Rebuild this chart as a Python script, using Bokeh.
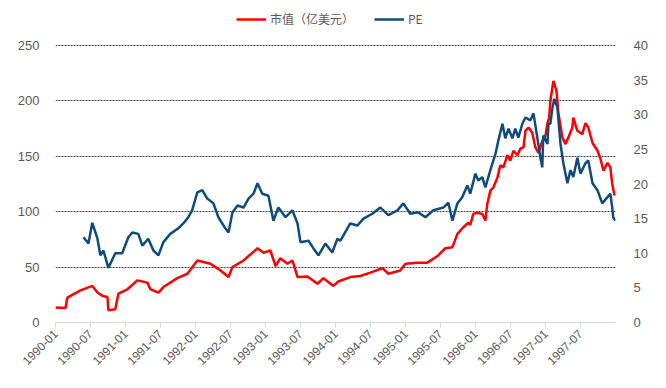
import pandas as pd
from bokeh.plotting import figure
from bokeh.models import (Range1d, LinearAxis, FixedTicker, DatetimeTickFormatter,
                          Legend, LegendItem, ColumnDataSource)
from bokeh.embed import file_html
from bokeh.resources import INLINE
import math

# ---- data ----
cap_dates = ["1990-01-01","1990-02-22","1990-03-04","1990-05-11","1990-07-12","1990-08-08",
             "1990-09-03","1990-09-29","1990-10-04","1990-11-09","1990-11-25","1991-01-11",
             "1991-03-04","1991-04-25","1991-05-11","1991-06-22","1991-07-18","1991-09-29",
             "1991-11-20","1992-01-11","1992-03-19","1992-05-11","1992-06-22","1992-07-12",
             "1992-09-08","1992-11-20","1992-12-21","1993-01-26","1993-02-22","1993-03-19",
             "1993-04-25","1993-05-21","1993-06-17","1993-08-08","1993-09-29","1993-10-30",
             "1993-12-21","1994-01-16","1994-03-19","1994-05-11","1994-07-02","1994-09-03",
             "1994-10-04","1994-12-05","1995-01-01","1995-03-04","1995-04-25","1995-06-17",
             "1995-07-28","1995-09-03","1995-09-29","1995-10-30","1995-11-25","1995-12-05",
             "1995-12-21","1996-01-11","1996-02-06","1996-02-22","1996-03-03","1996-03-19",
             "1996-04-04","1996-04-25","1996-05-10","1996-05-26","1996-06-16","1996-07-01",
             "1996-07-17","1996-08-07","1996-08-23","1996-09-08","1996-09-18","1996-10-04",
             "1996-10-24","1996-11-09","1996-11-25","1996-12-15","1997-01-01","1997-01-11",
             "1997-01-20","1997-01-26","1997-02-11","1997-02-27","1997-03-09","1997-03-30",
             "1997-04-15","1997-04-30","1997-05-21","1997-05-26","1997-06-16","1997-07-12",
             "1997-07-28","1997-08-12","1997-09-03","1997-09-29","1997-10-14","1997-10-30",
             "1997-11-20","1997-12-05","1997-12-15","1997-12-26","1997-12-31"]
cap_values = [13.5, 13, 22.5, 29, 33, 27,
              24, 23, 11, 12, 26, 30,
              38, 36, 30, 27, 32, 40,
              44, 56, 53, 47, 41, 50,
              56, 67, 63, 65, 51, 58,
              53, 56, 41, 41.5, 35, 40,
              33, 37, 41, 42, 45, 49,
              44, 47, 53, 54, 54, 60,
              67, 68, 80, 86, 90, 88,
              98, 99, 98, 92, 107, 119,
              122, 131, 142, 140, 151, 146,
              155, 151, 157, 158, 173, 176,
              171, 158, 153, 164, 169, 180,
              185, 200, 218, 209, 189, 167,
              161, 167, 176, 185, 173, 170,
              180, 176, 162, 155, 148, 137,
              144, 140, 125, 115, 116]

pe_dates = ["1990-05-27","1990-06-22","1990-07-12","1990-08-08","1990-08-23","1990-09-08",
            "1990-10-04","1990-11-09","1990-12-15","1991-01-16","1991-02-06","1991-03-09",
            "1991-03-30","1991-04-30","1991-05-27","1991-06-22","1991-07-18","1991-08-23",
            "1991-10-04","1991-10-30","1991-11-25","1991-12-15","1992-01-11","1992-02-06",
            "1992-03-03","1992-04-04","1992-04-30","1992-06-05","1992-06-22","1992-07-12",
            "1992-08-08","1992-09-08","1992-10-04","1992-10-30","1992-11-20","1992-12-15",
            "1993-01-16","1993-02-11","1993-03-09","1993-04-15","1993-05-21","1993-06-17",
            "1993-07-02","1993-08-13","1993-09-08","1993-10-04","1993-11-09","1993-12-15",
            "1994-01-11","1994-01-26","1994-03-19","1994-04-25","1994-05-27","1994-07-12",
            "1994-08-23","1994-10-04","1994-11-20","1994-12-21","1995-01-26","1995-03-09",
            "1995-04-15","1995-05-27","1995-07-18","1995-08-13","1995-09-03","1995-09-29",
            "1995-10-24","1995-11-20","1995-12-05","1996-01-01","1996-01-16","1996-02-06",
            "1996-02-22","1996-03-19","1996-04-15","1996-04-30","1996-05-21","1996-06-05",
            "1996-06-22","1996-07-12","1996-07-27","1996-08-12","1996-09-02","1996-09-18",
            "1996-10-14","1996-10-30","1996-11-19","1996-12-05","1996-12-15","1996-12-20",
            "1997-01-11","1997-01-16","1997-01-26","1997-02-06","1997-02-16","1997-03-04",
            "1997-03-20","1997-04-04","1997-04-25","1997-05-11","1997-05-26","1997-06-16",
            "1997-07-02","1997-07-28","1997-08-12","1997-09-03","1997-09-29","1997-10-24",
            "1997-11-20","1997-12-05","1997-12-15","1997-12-20","1997-12-31"]
pe_values = [12.3, 11.4, 14.4, 12.1, 9.7, 10.4,
             7.9, 10, 10, 12.3, 13, 12.8,
             11.1, 12.1, 10.4, 9.7, 11.6, 12.8,
             13.6, 14.3, 15.2, 16.2, 18.8, 19.1,
             17.9, 17.2, 15.2, 13.6, 13, 15.9,
             16.9, 16.6, 17.9, 18.6, 20.1, 18.6,
             18.3, 14.7, 16.6, 15.2, 16.2, 14.3,
             11.6, 11.8, 10.7, 9.7, 11.4, 10.1,
             12.1, 11.8, 14.3, 14, 15, 15.7,
             16.6, 15.5, 16.2, 17.2, 15.7, 15.9,
             15.2, 16.2, 16.6, 17.3, 14.7, 17.2,
             18.1, 19.8, 18.6, 21.5, 20.5, 21,
             19.5, 22, 24.4, 26.3, 28.7, 26.6,
             28, 26.6, 28, 26.7, 28.7, 29.6,
             29.2, 30.2, 26.7, 23.8, 22.4, 27,
             25.8, 28.7, 28.7, 31, 32.3, 31,
             25.8, 23, 20.1, 22, 21, 23.8,
             21.5, 23, 23.4, 20.1, 19.1, 17.2,
             18.1, 18.6, 16.6, 15.2, 14.7]

tick_labels = ["1990-01","1990-07","1991-01","1991-07","1992-01","1992-07","1993-01","1993-07",
               "1994-01","1994-07","1995-01","1995-07","1996-01","1996-07","1997-01","1997-07"]
left_ticks = [0, 50, 100, 150, 200, 250]
right_ticks = [0, 5, 10, 15, 20, 25, 30, 35, 40]

cap_label = "市值（亿美元）"
pe_label = "PE"

# ---- layout constants ----
W, H = 650, 380
FRAME_L, FRAME_R, FRAME_T, FRAME_B = 55, 615, 5, 322   # page pixels
LEFT_MAX = 250
RIGHT_MAX = 40
Y250 = 45  # pixel row of the 250 / 40 gridline
px_per_unit = (FRAME_B - Y250) / LEFT_MAX
left_top = (FRAME_B - FRAME_T) / px_per_unit
right_top = left_top * RIGHT_MAX / LEFT_MAX

cap_src = ColumnDataSource(dict(x=pd.to_datetime(cap_dates), y=cap_values))
pe_src = ColumnDataSource(dict(x=pd.to_datetime(pe_dates), y=pe_values))

x_start = pd.Timestamp("1990-01-01")
x_end = pd.Timestamp("1998-01-01")

p = figure(width=W, height=H, x_axis_type="datetime", output_backend="svg",
           toolbar_location=None,
           x_range=Range1d(x_start, x_end), y_range=Range1d(0, left_top),
           min_border_left=FRAME_L, min_border_right=W - FRAME_R,
           min_border_top=FRAME_T, min_border_bottom=H - FRAME_B)
p.outline_line_color = None
p.background_fill_color = "white"
p.border_fill_color = "white"
p.extra_y_ranges = {"pe": Range1d(0, right_top)}

grey = "#595959"
font = "Liberation Sans"

tick_ms = [pd.Timestamp(t + "-01").value // 10**6 for t in tick_labels]
p.xaxis.ticker = FixedTicker(ticks=tick_ms)
p.xaxis.formatter = DatetimeTickFormatter(days="%Y-%m", months="%Y-%m", years="%Y-%m")
p.xaxis.major_label_orientation = math.pi / 4
p.xaxis.axis_line_color = "#d9d9d9"
p.xaxis.major_tick_line_color = "#d9d9d9"
p.xaxis.major_tick_out = 5
p.xaxis.major_tick_in = 0
p.xaxis.minor_tick_line_color = None
p.xaxis.major_label_text_font = font
p.xaxis.major_label_text_font_size = "12px"
p.xaxis.major_label_text_color = grey
p.xaxis.major_label_standoff = 4

p.yaxis.ticker = FixedTicker(ticks=left_ticks)
p.yaxis.axis_line_color = None
p.yaxis.major_tick_line_color = None
p.yaxis.minor_tick_line_color = None
p.yaxis.major_label_text_font = font
p.yaxis.major_label_text_font_size = "13px"
p.yaxis.major_label_text_color = grey
p.yaxis.major_label_standoff = 10

raxis = LinearAxis(y_range_name="pe", ticker=FixedTicker(ticks=right_ticks))
raxis.axis_line_color = None
raxis.major_tick_line_color = None
raxis.minor_tick_line_color = None
raxis.major_label_text_font = font
raxis.major_label_text_font_size = "13px"
raxis.major_label_text_color = grey
raxis.major_label_standoff = 12
p.add_layout(raxis, "right")

p.xgrid.grid_line_color = None
p.ygrid.ticker = FixedTicker(ticks=left_ticks[1:])
p.ygrid.grid_line_color = "#404040"
p.ygrid.grid_line_dash = "2 1"
p.ygrid.grid_line_width = 1

r_cap = p.line("x", "y", source=cap_src, line_color="#ff0000", line_width=2.5)
r_pe = p.line("x", "y", source=pe_src, line_color="#0f4c7c", line_width=2.5, y_range_name="pe")

legend = Legend(items=[LegendItem(label=cap_label, renderers=[r_cap]),
                       LegendItem(label=pe_label, renderers=[r_pe])],
                orientation="horizontal", location=(181, 295),
                label_text_font="Noto Sans CJK SC", label_text_font_size="12px",
                label_text_color=grey, border_line_color=None, background_fill_alpha=0,
                glyph_width=30, glyph_height=14, spacing=20, padding=2, margin=0,
                label_standoff=4, label_height=14)
p.add_layout(legend, "center")

open("out.html", "w").write(file_html(p, INLINE))
